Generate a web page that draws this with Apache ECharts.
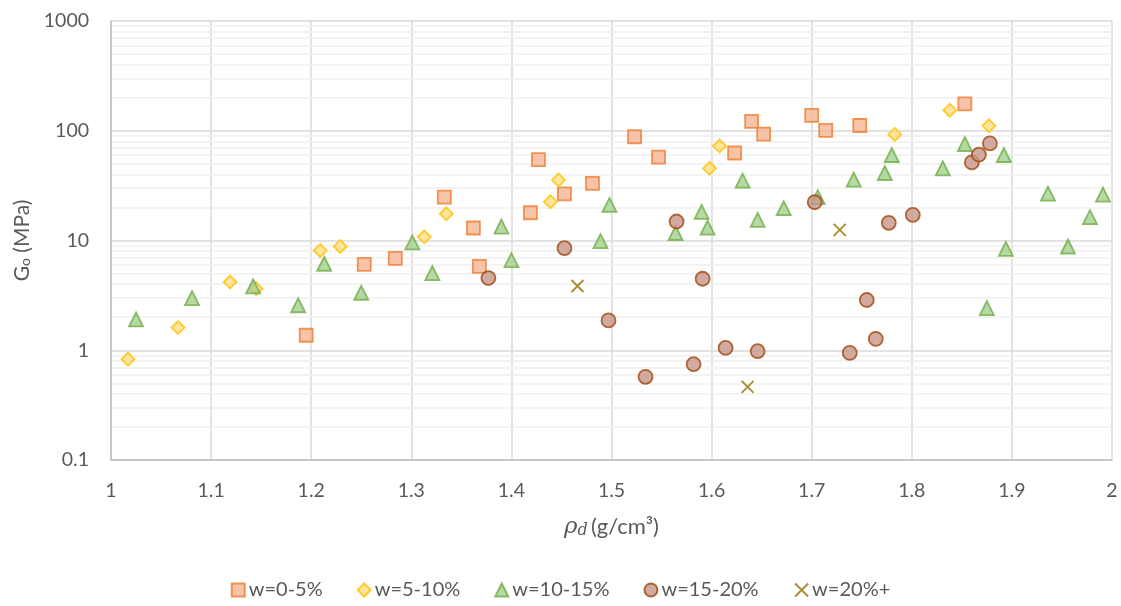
<!DOCTYPE html>
<html>
<head>
<meta charset="utf-8">
<script src="https://cdn.jsdelivr.net/npm/echarts@6/dist/echarts.min.js"></script>
<style>
  html, body { margin: 0; padding: 0; background: #ffffff; }
  #chart { width: 1121px; height: 606px; }
</style>
</head>
<body>
<div id="chart"></div>
<script>
// ---- Data (rho_d in g/cm3, G0 in MPa) ----
const seriesNames = ['w=0-5%', 'w=5-10%', 'w=10-15%', 'w=15-20%', 'w=20%+'];

const w0_5 = [
  [1.195, 1.37], [1.253, 6.05], [1.284, 6.86], [1.333, 24.8], [1.362, 13.0],
  [1.368, 5.8], [1.419, 17.9], [1.427, 54.5], [1.453, 26.6], [1.481, 33.2],
  [1.523, 88.2], [1.547, 57.6], [1.623, 62.7], [1.640, 121.6], [1.652, 93.3],
  [1.700, 137.8], [1.714, 100.7], [1.748, 111.7], [1.853, 176]
];

const w5_10 = [
  [1.017, 0.83], [1.067, 1.61], [1.119, 4.18], [1.145, 3.64], [1.209, 8.11],
  [1.229, 8.82], [1.313, 10.8], [1.335, 17.5], [1.439, 22.6], [1.447, 35.6],
  [1.598, 45.5], [1.608, 72.6], [1.783, 92.6], [1.838, 154], [1.877, 111]
];

const w10_15 = [
  [1.025, 1.91], [1.081, 2.99], [1.142, 3.82], [1.187, 2.57], [1.213, 6.14],
  [1.250, 3.34], [1.301, 9.6], [1.321, 5.05], [1.390, 13.4], [1.400, 6.62],
  [1.489, 9.86], [1.498, 21.1], [1.564, 11.7], [1.590, 18.2], [1.596, 13.1],
  [1.631, 35.1], [1.646, 15.4], [1.672, 19.7], [1.706, 24.8], [1.742, 35.9],
  [1.773, 41.2], [1.780, 60.1], [1.831, 45.5], [1.853, 75.7], [1.892, 60.1],
  [1.894, 8.4], [1.875, 2.42], [1.936, 26.7], [1.956, 8.82], [1.978, 16.3],
  [1.991, 26.2]
];

const w15_20 = [
  [1.377, 4.55], [1.453, 8.51], [1.497, 1.87], [1.534, 0.573], [1.582, 0.746],
  [1.591, 4.48], [1.565, 14.9], [1.614, 1.05], [1.646, 0.98], [1.703, 22.3],
  [1.738, 0.946], [1.755, 2.87], [1.764, 1.27], [1.777, 14.5], [1.801, 17.1],
  [1.860, 51.5], [1.867, 60.5], [1.878, 76.7]
];

const w20plus = [
  [1.466, 3.85], [1.636, 0.464], [1.728, 12.5]
];

// Tick / gridline values
const xTicks = [1, 1.1, 1.2, 1.3, 1.4, 1.5, 1.6, 1.7, 1.8, 1.9, 2];
const yTicks = [0.1, 1, 10, 100, 1000];
const minorGridValues = [
  0.2, 0.3, 0.4, 0.5, 0.6, 0.7, 0.8, 0.9,
  2, 3, 4, 5, 6, 7, 8, 9,
  20, 30, 40, 50, 60, 70, 80, 90,
  200, 300, 400, 500, 600, 700, 800, 900
];

const FONT = 'Lato, "Open Sans", sans-serif';
const TXT = '#595959';

const chart = echarts.init(document.getElementById('chart'), null, { renderer: 'canvas' });

const xPath = 'path://M0,0 L10,10 M10,0 L0,10';

const option = {
  backgroundColor: '#ffffff',
  animation: false,
  textStyle: { fontFamily: FONT, color: TXT },
  grid: { left: 111, right: 9, top: 21, bottom: 146, containLabel: false },
  legend: {
    data: seriesNames,
    bottom: 1,
    left: 'center',
    itemWidth: 13,
    itemHeight: 13,
    itemGap: 34,
    textStyle: { fontFamily: FONT, fontSize: 20, color: TXT, padding: [0, 0, 0, -1] }
  },
  xAxis: {
    type: 'value',
    min: xTicks[0],
    max: xTicks[xTicks.length - 1],
    interval: 0.1,
    name: '{rho|ρ}{d|d} {t|(g/cm³)}',
    nameLocation: 'middle',
    nameGap: 55,
    nameTextStyle: {
      rich: {
        rho: { fontFamily: '"DejaVu Serif", serif', fontStyle: 'italic', fontSize: 23, color: TXT },
        d: { fontFamily: '"DejaVu Serif", serif', fontStyle: 'italic', fontSize: 16, color: TXT, padding: [8, 0, 0, 0] },
        t: { fontFamily: FONT, fontSize: 22, color: TXT }
      }
    },
    axisLine: { show: true, lineStyle: { color: '#BFBFBF', width: 1.5 } },
    axisTick: { show: false },
    axisLabel: {
      margin: 21,
      fontFamily: FONT,
      fontSize: 19.5,
      color: TXT,
      formatter: function (v) { return String(Math.round(v * 10) / 10); }
    },
    splitLine: { show: true, lineStyle: { color: '#D9D9D9', width: 1.5 } }
  },
  yAxis: {
    type: 'log',
    logBase: 10,
    min: yTicks[0],
    max: yTicks[yTicks.length - 1],
    name: '{g|G}{sub|o}{t| (MPa)}',
    nameLocation: 'middle',
    nameRotate: 90,
    nameGap: 77,
    nameTextStyle: {
      rich: {
        g: { fontFamily: FONT, fontSize: 21, color: TXT },
        sub: { fontFamily: FONT, fontSize: 14, color: TXT, padding: [8, 0, 0, 0] },
        t: { fontFamily: FONT, fontSize: 21, color: TXT }
      }
    },
    axisLine: { show: true, lineStyle: { color: '#BFBFBF', width: 1.5 } },
    axisTick: { show: false },
    axisLabel: {
      margin: 22,
      fontFamily: FONT,
      fontSize: 19.5,
      color: TXT,
      formatter: function (v) {
        if (v < 1) return String(Math.round(v * 10) / 10);
        return String(Math.round(v));
      }
    },
    splitLine: { show: true, lineStyle: { color: '#D9D9D9', width: 1.5 } }
  },
  series: [
    {
      name: '__minorGrid',
      type: 'scatter',
      data: [],
      silent: true,
      z: 0,
      zlevel: 0,
      markLine: {
        silent: true,
        z: 0,
        symbol: ['none', 'none'],
        label: { show: false },
        animation: false,
        lineStyle: { color: '#EFEFEF', width: 1.5, type: 'solid' },
        data: minorGridValues.map(function (v) { return { yAxis: v }; })
      }
    },
    {
      name: seriesNames[0],
      type: 'scatter',
      symbol: 'rect',
      symbolSize: 13,
      z: 3,
      data: w0_5,
      itemStyle: { color: '#F5B594', borderColor: '#ED7D31', borderWidth: 1.8 }
    },
    {
      name: seriesNames[1],
      type: 'scatter',
      symbol: 'diamond',
      symbolSize: 13,
      z: 3,
      data: w5_10,
      itemStyle: { color: '#FFDE86', borderColor: '#FFC000', borderWidth: 1.8 }
    },
    {
      name: seriesNames[2],
      type: 'scatter',
      symbol: 'triangle',
      symbolSize: 14,
      z: 3,
      data: w10_15,
      itemStyle: { color: '#A5CF8C', borderColor: '#70AD47', borderWidth: 1.8 }
    },
    {
      name: seriesNames[3],
      type: 'scatter',
      symbol: 'circle',
      symbolSize: 14,
      z: 3,
      data: w15_20,
      itemStyle: { color: '#C8958A', borderColor: '#9E480E', borderWidth: 1.8 }
    },
    {
      name: seriesNames[4],
      type: 'scatter',
      symbol: xPath,
      symbolSize: 12,
      z: 3,
      data: w20plus,
      itemStyle: { color: 'none', borderColor: '#997300', borderWidth: 2 }
    }
  ]
};

chart.setOption(option);
</script>
</body>
</html>
